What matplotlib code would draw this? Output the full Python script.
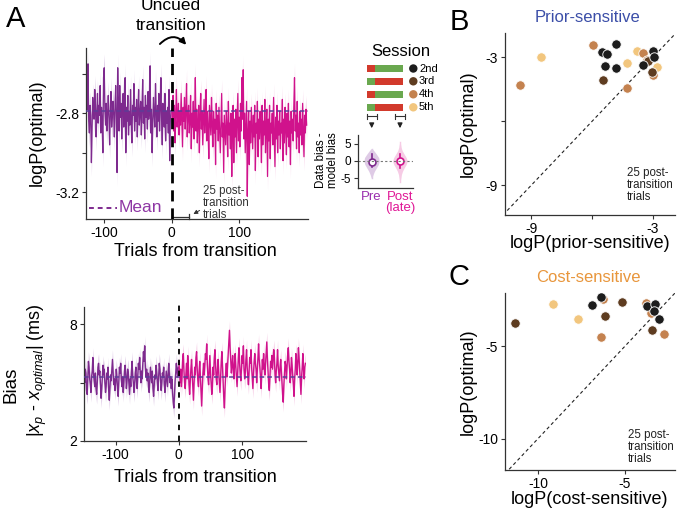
import numpy as np
import matplotlib
matplotlib.use("Agg")
import matplotlib.pyplot as plt
from matplotlib.patches import Rectangle, Circle
from matplotlib.transforms import blended_transform_factory

plt.rcParams['font.family'] = ['Liberation Sans', 'DejaVu Sans']
plt.rcParams['axes.unicode_minus'] = False
plt.rcParams['mathtext.fontset'] = 'custom'
plt.rcParams['mathtext.it'] = 'Liberation Sans:italic'
plt.rcParams['mathtext.rm'] = 'Liberation Sans'

# ---- panel A top: logP(optimal) per trial (values x -100) ----
pre_logp = np.array([
    272, 262, 278, 255, 284, 290, 276, 281, 305, 288,
    272, 279, 283, 268, 276, 292, 280, 270, 285, 276,
    281, 266, 290, 277, 284, 300, 262, 257, 279, 286,
    275, 289, 280, 271, 283, 296, 279, 269, 287, 282,
    274, 280, 292, 276, 266, 283, 310, 257, 280, 289,
    266, 282, 275, 293, 279, 270, 287, 281, 262, 300,
    277, 284, 271, 291, 279, 286, 268, 283, 295, 276,
    281, 265, 289, 277, 284, 273, 292, 279, 268, 286,
    280, 274, 291, 278, 263, 285, 277, 293, 271, 282,
    276, 288, 269, 283, 279, 256, 290, 278, 300, 284,
    272, 281, 287, 265, 279, 292, 276, 284, 270, 289,
    278, 262, 283, 296, 275, 281, 287, 270, 294, 279,
    285, 277, 290, 268, 304, 283, 279]) / -100
post_logp = np.array([
    278, 283, 271, 289, 276, 295, 280, 268, 287, 282,
    275, 291, 279, 286, 270, 283, 297, 277, 284, 272,
    288, 279, 265, 292, 281, 276, 290, 284, 271, 298,
    280, 287, 274, 293, 283, 262, 289, 278, 295, 284,
    276, 300, 281, 270, 288, 279, 296, 285, 273, 290,
    282, 268, 294, 279, 287, 303, 276, 284, 291, 272,
    286, 297, 279, 290, 283, 306, 275, 288, 281, 294,
    277, 289, 300, 284, 270, 292, 285, 310, 281, 288,
    296, 279, 287, 302, 274, 291, 285, 298, 280, 312,
    289, 276, 305, 283, 292, 278, 300, 286, 270, 294,
    282, 297, 275, 289, 262, 283, 258, 293, 280, 300,
    287, 274, 322, 290, 279, 306, 284, 295, 277, 288,
    298, 281, 292, 276, 309, 285, 290, 274, 302, 283,
    293, 279, 288, 305, 276, 296, 284, 291, 273, 300,
    287, 278, 312, 283, 294, 276, 303, 285, 290, 280,
    296, 272, 289, 307, 282, 293, 276, 300, 284, 291,
    279, 298, 285, 290, 273, 304, 283, 295, 277, 288,
    301, 280, 292, 275, 297, 284, 306, 279, 290, 283,
    294, 276, 262, 289, 281, 298, 274, 292, 285, 300,
    279, 291, 283, 296, 275, 288, 302, 281, 290, 278,
    286]) / -100
logp_sem = 0.07
logp_mean = -2.79

# ---- panel A bottom: bias in ms (values x 10) ----
pre_bias = np.array([
    53, 50, 57, 55, 46, 44, 52, 61, 58, 52,
    49, 45, 53, 56, 63, 55, 51, 48, 55, 47,
    44, 50, 58, 60, 54, 56, 49, 42, 47, 53,
    59, 54, 57, 50, 45, 48, 55, 52, 58, 46,
    41, 48, 54, 51, 57, 62, 55, 49, 52, 46,
    50, 57, 53, 47, 43, 51, 58, 55, 60, 52,
    48, 53, 45, 50, 56, 59, 54, 47, 51, 57,
    55, 49, 44, 52, 48, 56, 61, 53, 50, 45,
    49, 55, 58, 51, 47, 54, 60, 57, 63, 55,
    50, 56, 52, 60, 66, 61, 69, 58, 53, 57,
    51, 55, 48, 45, 52, 58, 54, 50, 56, 47,
    43, 49, 54, 52, 59, 55, 50, 46, 53, 60,
    57, 51, 46, 50, 55, 53, 58, 49, 45, 51,
    56, 52, 48, 55, 60, 54, 50, 53, 47, 52,
    45, 40, 37, 43, 51, 55, 60, 56, 53, 58]) / 10
post_bias = np.array([
    61, 55, 50, 57, 48, 53, 62, 65, 56, 50,
    47, 54, 60, 52, 64, 58, 49, 44, 51, 57,
    62, 55, 47, 41, 50, 58, 54, 63, 66, 57,
    51, 48, 56, 61, 53, 45, 38, 46, 55, 60,
    54, 59, 65, 62, 70, 60, 52, 49, 57, 64,
    55, 50, 44, 48, 58, 54, 63, 67, 59, 52,
    49, 57, 62, 55, 50, 45, 53, 61, 66, 58,
    51, 42, 37, 47, 55, 60, 53, 59, 66, 71,
    77, 68, 61, 55, 59, 64, 57, 52, 60, 65,
    58, 53, 48, 56, 63, 68, 60, 54, 51, 58,
    64, 60, 69, 57, 52, 55, 62, 67, 58, 53,
    49, 56, 63, 60, 67, 58, 52, 47, 55, 61,
    65, 60, 57, 50, 56, 63, 70, 62, 58, 53,
    47, 55, 62, 57, 65, 58, 54, 60, 66, 71,
    62, 55, 49, 46, 53, 61, 58, 64, 57, 62,
    67, 63, 54, 50, 56, 60, 67, 59, 55, 51,
    58, 62, 56, 51, 44, 40, 49, 55, 61, 59,
    52, 58, 64, 68, 61, 57, 50, 55, 63, 59,
    53, 49, 43, 52, 57, 65, 61, 54, 60, 68,
    63, 57, 51, 44, 53, 58, 65, 57, 52, 58,
    60]) / 10
bias_sem = 0.5
bias_mean = 5.27

# ---- inset: data bias - model bias ----
inset_labels = ['Pre', 'Post\n(late)']
pre_violin_y = [3.6, 3.0, 2.0, 1.0, 0.0, -1.0, -2.0, -3.0, -4.0, -5.0]
pre_violin_w = [0.02, 0.08, 0.17, 0.25, 0.27, 0.24, 0.17, 0.10, 0.05, 0.01]
post_violin_y = [5.5, 4.0, 3.0, 2.0, 1.0, 0.0, -1.0, -2.0, -3.0, -4.0, -5.0, -6.0]
post_violin_w = [0.01, 0.04, 0.08, 0.15, 0.22, 0.26, 0.22, 0.15, 0.09, 0.05, 0.03, 0.01]
inset_center = [-0.3, 0.0]
inset_lo = [-1.9, -2.0]
inset_hi = [2.1, 2.0]

# ---- sessions ----
session_names = ['2nd', '3rd', '4th', '5th']
session_colors = ['#1d1d1d', '#5e3c20', '#c4824f', '#f2c67e']
session_first_block = ['red', 'green', 'red', 'green']

# ---- panel B: logP(prior-sensitive) vs logP(optimal) ----
b_x = {'2nd': [-5.51, -4.81, -5.24, -5.35, -4.81, -2.97, -2.93, -3.46],
       '3rd': [-5.47, -3.22, -3.05],
       '4th': [-9.58, -5.96, -3.49, -4.28, -3.0, -3.3],
       '5th': [-8.52, -4.28, -3.79, -2.8]}
b_y = {'2nd': [-2.74, -2.35, -2.85, -3.41, -3.51, -2.69, -3.0, -3.33],
       '3rd': [-4.06, -3.16, -3.67],
       '4th': [-4.31, -2.42, -2.79, -4.45, -3.83, -3.1],
       '5th': [-2.97, -3.25, -2.69, -3.44]}

# ---- panel C: logP(cost-sensitive) vs logP(optimal) ----
c_x = {'2nd': [-6.91, -6.34, -3.73, -3.23, -3.29, -3.04],
       '3rd': [-11.34, -6.15, -5.13, -3.42],
       '4th': [-6.25, -6.34, -3.76, -3.47, -2.71],
       '5th': [-9.14, -7.67]}
c_y = {'2nd': [-2.75, -2.33, -2.80, -2.70, -3.06, -3.52],
       '3rd': [-3.71, -3.34, -2.60, -4.10],
       '4th': [-2.42, -4.46, -2.63, -3.20, -4.31],
       '5th': [-2.72, -3.49]}

PURPLE = '#7e2a8e'
PURPLE_L = '#dfcbe6'
MAGENTA = '#d0128c'
MAGENTA_L = '#f6cbe5'
MEANC = '#5b3d98'
RED = '#d23a2c'
GREEN = '#6aa84f'

W, H = 677, 512
fig = plt.figure(figsize=(W / 100, H / 100), dpi=100)


def px_axes(l, t, r, b):
    return fig.add_axes([l / W, 1 - b / H, (r - l) / W, (b - t) / H])


def style(ax, fs=10):
    for s in ['top', 'right']:
        ax.spines[s].set_visible(False)
    for s in ['left', 'bottom']:
        ax.spines[s].set_color('#333333')
        ax.spines[s].set_linewidth(0.9)
    ax.tick_params(length=3, width=0.8, color='#333333', labelsize=fs, pad=2)


# ----- A top -----
ax1 = px_axes(86, 48, 308, 219)
style(ax1)
x_pre = np.arange(-len(pre_logp), 0)
x_post = np.arange(len(post_logp))
ax1.fill_between(x_pre, pre_logp - logp_sem, pre_logp + logp_sem, color=PURPLE_L, lw=0)
ax1.fill_between(x_post, post_logp - logp_sem, post_logp + logp_sem, color=MAGENTA_L, lw=0)
ax1.plot(x_pre, pre_logp, color=PURPLE, lw=0.9)
ax1.plot(x_post, post_logp, color=MAGENTA, lw=0.9)
ax1.axhline(logp_mean, color=MEANC, ls=(0, (3, 2)), lw=1.1, zorder=3)
ax1.axvline(0, color='black', ls=(0, (4, 2.5)), lw=2, zorder=4)
ax1.set_xlim(-127, 202)
ax1.set_ylim(-3.335, -2.47)
ax1.set_xticks([-100, 0, 100])
ax1.set_yticks([-3.2, -3.0, -2.8, -2.6])
ax1.set_yticklabels(['-3.2', '', '-2.8', ''])
tr = blended_transform_factory(ax1.transData, ax1.transAxes)
ax1.plot([0, 25], [0.014, 0.014], transform=tr, color='#333333', lw=0.9, clip_on=False)
for xe in [0, 25]:
    ax1.plot([xe, xe], [0.0, 0.028], transform=tr, color='#333333', lw=0.9, clip_on=False)

# ----- A bottom -----
ax2 = px_axes(84, 307, 306, 441)
style(ax2)
x_pre_b = np.arange(-len(pre_bias), 0)
x_post_b = np.arange(len(post_bias))
ax2.fill_between(x_pre_b, pre_bias - bias_sem, pre_bias + bias_sem, color=PURPLE_L, lw=0)
ax2.fill_between(x_post_b, post_bias - bias_sem, post_bias + bias_sem, color=MAGENTA_L, lw=0)
ax2.plot(x_pre_b, pre_bias, color=PURPLE, lw=1.0)
ax2.plot(x_post_b, post_bias, color=MAGENTA, lw=1.0)
ax2.axhline(bias_mean, color=MEANC, ls=(0, (3, 2)), lw=1.1, zorder=3)
ax2.plot([0, 0], [2, 9.15], color='black', ls=(0, (3, 3)), lw=1.3, zorder=4, clip_on=False)
ax2.set_xlim(-150, 201)
ax2.set_ylim(2, 8.9)
ax2.set_xticks([-100, 0, 100])
ax2.set_yticks([2, 5, 8])
ax2.set_yticklabels(['2', '', '8'])

# ----- inset -----
ax3 = px_axes(358, 135, 413, 188)
style(ax3, fs=8.5)
for pos, vy, vw, col in [(1, pre_violin_y, pre_violin_w, PURPLE_L),
                         (2, post_violin_y, post_violin_w, MAGENTA_L)]:
    vy = np.array(vy)
    vw = np.array(vw)
    ax3.fill_betweenx(vy, pos - vw, pos + vw, color=col, lw=0)
    ax3.plot([pos, pos], [vy.min(), vy.max()], color=col, lw=1)
for i, col in enumerate([PURPLE, MAGENTA]):
    ax3.plot([i + 1, i + 1], [inset_lo[i], inset_hi[i]], color=col, lw=1.2)
    ax3.plot(i + 1, inset_center[i], 'o', ms=5, mfc='white', mec=col, mew=1.2)
ax3.axhline(0, color='#777777', ls=(0, (2, 2)), lw=0.8)
ax3.set_xlim(0.52, 2.46)
ax3.set_ylim(-7.9, 7.6)
ax3.set_yticks([-5, 0, 5])
ax3.set_xticks([1, 2])
ax3.set_xticklabels(inset_labels, fontsize=9.5)
ax3.tick_params(axis='x', length=0, pad=2)
for lab, col in zip(ax3.get_xticklabels(), ['#9a2fae', '#e01896']):
    lab.set_color(col)
    lab.set_linespacing(0.95)


# ----- B and C -----
def scatter_panel(ax, xs, ys, xlim, ylim, ticks, labels):
    style(ax)
    lo = min(xlim[0], ylim[0])
    hi = max(xlim[1], ylim[1])
    ax.plot([lo, hi], [lo, hi], color='#222222', ls=(0, (3, 2.5)), lw=0.8, zorder=1)
    for name, col in zip(session_names[::-1], session_colors[::-1]):
        ax.scatter(xs[name], ys[name], s=46, color=col, edgecolor='white',
                   linewidth=0.6, zorder=3)
    ax.set_xlim(*xlim)
    ax.set_ylim(*ylim)
    ax.set_xticks(ticks)
    ax.set_xticklabels(labels)
    ax.set_yticks(ticks)
    ax.set_yticklabels(labels)


axB = px_axes(505, 33, 675, 215)
scatter_panel(axB, b_x, b_y, (-10.3, -1.9), (-10.4, -1.85), [-9, -6, -3], ['-9', '', '-3'])
axC = px_axes(505, 293, 675, 470)
scatter_panel(axC, c_x, c_y, (-11.9, -2.1), (-11.7, -2.1), [-10, -5], ['-10', '-5'])

# ----- overlay for text and annotations (pixel coords) -----
ov = fig.add_axes([0, 0, 1, 1], zorder=10)
ov.set_xlim(0, W)
ov.set_ylim(H, 0)
ov.axis('off')
ov.set_facecolor('none')


def T(x, y, s, fs=13, **kw):
    kw.setdefault('ha', 'center')
    kw.setdefault('va', 'center')
    ov.text(x, y, s, fontsize=fs, **kw)


T(16, 19, 'A', fs=21)
T(459, 22, 'B', fs=21)
T(459, 277, 'C', fs=21)
T(171, 6, 'Uncued', fs=12.5)
T(171, 26, 'transition', fs=12.5)
ov.annotate('', xy=(188, 47), xytext=(158, 46),
            arrowprops=dict(arrowstyle='-|>', connectionstyle='arc3,rad=-0.6',
                            color='black', lw=1.4, mutation_scale=9))
T(37, 133, 'logP(optimal)', rotation=90)
T(195, 252, 'Trials from transition')
T(195, 478, 'Trials from transition')
T(11, 385, 'Bias', fs=13.5, rotation=90)
T(37, 370, r'$|x_p$ - $x_{optimal}|$ (ms)', fs=13, rotation=90)
ov.plot([89, 117], [208, 208], color=PURPLE, ls=(0, (2.5, 2)), lw=1.4)
T(119, 208, 'Mean', fs=12.5, ha='left', color='#8e36a4')
T(203, 203, '25 post-\ntransition\ntrials', fs=8.3, ha='left', color='#333333',
  linespacing=0.95)
ov.annotate('', xy=(191, 215.5), xytext=(202, 209),
            arrowprops=dict(arrowstyle='-|>', color='#333333', lw=0.7, mutation_scale=6))

# session legend
T(401, 51, 'Session', fs=12)
rows_y = [68.5, 81.3, 94.3, 107.3]
for ry, first, name, col in zip(rows_y, session_first_block, session_names, session_colors):
    c1 = RED if first == 'red' else GREEN
    c2 = GREEN if first == 'red' else RED
    ov.add_patch(Rectangle((366.7, ry - 3.5), 8.3, 7, color=c1, lw=0))
    ov.add_patch(Rectangle((375.0, ry - 3.5), 28.3, 7, color=c2, lw=0))
    ov.add_patch(Circle((413.3, ry), 4.2, color=col, lw=0))
    T(419, ry, name, fs=8, ha='left')
for xl, xr in [(366.7, 376.7), (395, 405)]:
    ov.plot([xl, xr], [116, 116], color='#333333', lw=0.8)
    ov.plot([xl, xl], [113.5, 118.5], color='#333333', lw=0.8)
    ov.plot([xr, xr], [113.5, 118.5], color='#333333', lw=0.8)
    ov.annotate('', xy=((xl + xr) / 2, 131), xytext=((xl + xr) / 2, 121),
                arrowprops=dict(arrowstyle='-|>', color='#222222', lw=0.9, mutation_scale=7))
T(327, 160, 'Data bias -\nmodel bias', fs=8.3, rotation=90, linespacing=1.05)

# B / C labels
T(588, 18, 'Prior-sensitive', fs=12, color='#3b4ea8')
T(588, 278, 'Cost-sensitive', fs=12, color='#e8963c')
T(468, 124, 'logP(optimal)', rotation=90)
T(468, 382, 'logP(optimal)', rotation=90)
T(590, 244, 'logP(prior-sensitive)')
T(590, 500, 'logP(cost-sensitive)')
T(627, 185, '25 post-\ntransition\ntrials', fs=8.3, ha='left', color='#222222',
  linespacing=1.0)
T(628, 447, '25 post-\ntransition\ntrials', fs=8.3, ha='left', color='#222222',
  linespacing=1.0)

fig.savefig('out.png', dpi=100)
